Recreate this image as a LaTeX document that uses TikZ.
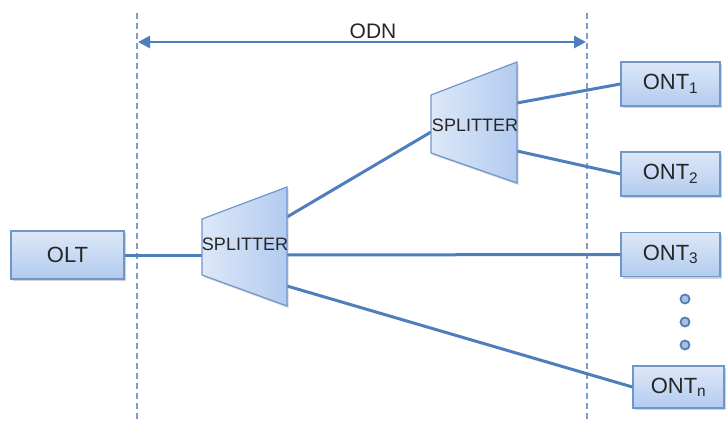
\documentclass[tikz,border=0pt]{standalone}
\usepackage{fontspec}
\setmainfont{Liberation Sans}
\usetikzlibrary{arrows.meta,shadows}
\definecolor{lineblue}{HTML}{4F7EBD}
\definecolor{edgeblue}{HTML}{7096CC}
\definecolor{boxtop}{HTML}{DDE8F8}
\definecolor{boxbot}{HTML}{B2CBEF}
\definecolor{dashblue}{HTML}{7C9DCD}
\definecolor{txt}{HTML}{262626}
\tikzset{
  box/.style={draw=edgeblue, line width=1.2pt, top color=boxtop, bottom color=boxbot,
    minimum width=#1, minimum height=44pt, inner sep=0pt, text=txt,
    font=\fontsize{22}{26}\selectfont,
    drop shadow={shadow xshift=1.5pt, shadow yshift=-2pt, opacity=0.35, fill=gray}},
  box/.default=99pt,
  split/.style={draw=edgeblue, line width=1.2pt, left color=boxtop, right color=boxbot,
    drop shadow={shadow xshift=1.5pt, shadow yshift=-2pt, opacity=0.3, fill=gray}},
  splittext/.style={text=txt, font=\fontsize{18}{20}\selectfont, inner sep=0pt},
  link/.style={draw=lineblue, line width=3pt},
  guide/.style={draw=dashblue, line width=1.2pt, dash pattern=on 6pt off 4pt},
  dot/.style={circle, fill=edgeblue!60!white, draw=lineblue, line width=1.8pt, minimum size=9pt, inner sep=0pt}
}
\begin{document}
\begin{tikzpicture}[x=1pt,y=-1pt]
\useasboundingbox (0,0) rectangle (726,423);
% guides
\coordinate (gl1) at (137,13); \coordinate (gl2) at (137,423);
\coordinate (gr1) at (587,13); \coordinate (gr2) at (587,423);
\draw[guide] (gl1) -- (gl2);
\draw[guide] (gr1) -- (gr2);
\coordinate (al) at (138,42); \coordinate (ar) at (586,42);
\draw[draw=lineblue, line width=2.8pt, {Triangle[length=12pt,width=12pt]}-{Triangle[length=12pt,width=12pt]}] (al) -- (ar);
\node[text=txt, font=\fontsize{21}{24}\selectfont, inner sep=0pt] (odn) at (373,31) {ODN};
% boxes
\node[box=113pt, minimum height=48pt] (olt) at (67.5,255) {OLT};
\node[box] (ont1) at (670.5,84) {ONT\textsubscript{1}};
\node[box] (ont2) at (670.5,174) {ONT\textsubscript{2}};
\node[box] (ont3) at (670.5,254.5) {ONT\textsubscript{3}};
\node[box=91pt, minimum height=42pt] (ontn) at (678.5,387) {ONT\textsubscript{n}};
% splitter coordinates
\coordinate (s1in) at (202,255);
\coordinate (s1a) at (287,217);
\coordinate (s1b) at (287,255);
\coordinate (s1c) at (287,286);
\coordinate (s2in) at (431,132);
\coordinate (s2a) at (517,103);
\coordinate (s2b) at (517,151);
% connectors
\draw[link] (olt.east) -- (s1in);
\draw[link] (s1a) -- (s2in);
\draw[link] (s1b) -- (ont3.west);
\draw[link] (s1c) -- (ontn.west);
\draw[link] (s2a) -- (ont1.west);
\draw[link] (s2b) -- (ont2.west);
% splitters
\path[split] (202,219) -- (287,187) -- (287,306) -- (202,275) -- cycle;
\node[splittext] (sp1) at (245,244) {SPLITTER};
\path[split] (431,95) -- (517,62) -- (517,183) -- (431,153) -- cycle;
\node[splittext] (sp2) at (475,125) {SPLITTER};
% dots
\node[dot] (d1) at (685,299) {};
\node[dot] (d2) at (685,322) {};
\node[dot] (d3) at (685,345) {};
\end{tikzpicture}
\end{document}
